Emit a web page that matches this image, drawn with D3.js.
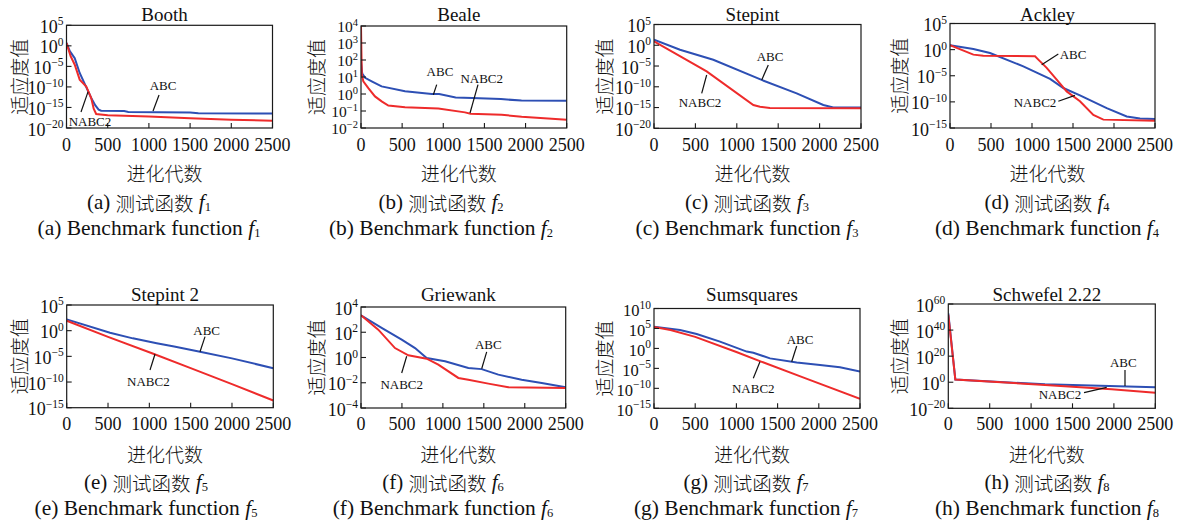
<!DOCTYPE html>
<html><head><meta charset="utf-8">
<script src="https://cdn.jsdelivr.net/npm/d3@7"></script>
<style>
body{margin:0;background:#fff}
text{font-family:"Liberation Serif","Times New Roman","Noto Sans CJK SC",serif;fill:#111}
.cjk{font-family:"Noto Sans CJK SC",sans-serif;font-weight:300}
</style>
</head><body>
<svg id="chart" width="1185" height="522"></svg>
<script>
// ---------------- data ----------------
const genTicks = [0, 500, 1000, 1500, 2000, 2500];
const titles = ["Booth", "Beale", "Stepint", "Ackley", "Stepint 2", "Griewank", "Sumsquares", "Schwefel 2.22"];
const letters = ["a", "b", "c", "d", "e", "f", "g", "h"];
const yTickExps = [
  [5, 0, -5, -10, -15, -20],
  [4, 3, 2, 1, 0, -1, -2],
  [5, 0, -5, -10, -15, -20],
  [5, 0, -5, -10, -15],
  [5, 0, -5, -10, -15],
  [4, 2, 0, -2, -4],
  [10, 5, 0, -5, -10, -15],
  [60, 40, 20, 0, -20]
];

// f1 Booth
const f1AbcGen = [0, 40, 100, 160, 245, 300, 350, 390, 420, 700, 750, 1500, 1600, 2500];
const f1AbcFit = [5, 5e-2, 1e-3, 2.5e-7, 5e-11, 2e-13, 3e-15, 3e-16, 1.6e-16, 1.3e-16, 8e-17, 6.3e-17, 4e-17, 3.2e-17];
const f1NabGen = [0, 50, 100, 160, 240, 300, 330, 360, 500, 1000, 1500, 2000, 2500];
const f1NabFit = [5, 3e-3, 2.5e-5, 6e-9, 1.3e-10, 2e-13, 5e-16, 2.5e-17, 1.3e-17, 6e-18, 2.5e-18, 1e-18, 6e-19];
// f2 Beale
const f2AbcGen = [0, 15, 50, 130, 250, 535, 860, 950, 1150, 1350, 1700, 1950, 2500];
const f2AbcFit = [80, 16, 9, 5.6, 2.8, 1.45, 1.0, 1.0, 0.63, 0.58, 0.5, 0.41, 0.4];
const f2NabGen = [0, 5, 10, 28, 89, 170, 251, 332, 535, 940, 1264, 1330, 1710, 1953, 2500];
const f2NabFit = [1e4, 316, 14, 5.6, 2.2, 0.72, 0.37, 0.21, 0.166, 0.138, 0.083, 0.069, 0.06, 0.046, 0.031];
// f3 Stepint
const f3AbcGen = [0, 314, 716, 1300, 1723, 2045, 2165, 2500];
const f3AbcFit = [23, 8.5e-2, 3.2e-4, 4.5e-9, 2.5e-12, 4e-15, 1e-15, 1e-15];
const f3NabGen = [0, 636, 1200, 1280, 1400, 2500];
const f3NabFit = [9, 5e-7, 4e-15, 1.6e-15, 8e-16, 6.3e-16];
// f4 Ackley
const f4AbcGen = [0, 285, 488, 894, 1220, 1382, 1585, 1911, 2155, 2317, 2500];
const f4AbcFit = [6.8, 1.3, 0.22, 6.3e-4, 2.5e-6, 4.5e-8, 1.8e-9, 6.3e-12, 1.6e-13, 6.3e-14, 5e-14];
const f4NabGen = [0, 285, 406, 1037, 1077, 1179, 1301, 1423, 1585, 1748, 1870, 2500];
const f4NabFit = [6.8, 0.11, 0.07, 0.052, 0.012, 3.2e-4, 1.8e-6, 1e-8, 1.3e-10, 3.2e-13, 4e-14, 2.5e-14];
// f5 Stepint 2
const f5AbcGen = [0, 524, 800, 1089, 1300, 1613, 2000, 2500];
const f5AbcFit = [160, 0.41, 0.032, 3.5e-3, 8e-4, 8e-5, 4e-6, 5e-8];
const f5NabGen = [0, 500, 1048, 1500, 2000, 2500];
const f5NabFit = [87, 6.3e-2, 3.2e-5, 5e-8, 4e-11, 2.5e-14];
// f6 Griewank
const f6AbcGen = [0, 252, 497, 660, 802, 1026, 1311, 1474, 1677, 1962, 2207, 2500];
const f6AbcFit = [2200, 220, 26, 5.6, 0.91, 0.5, 0.15, 0.12, 0.044, 0.017, 9.5e-3, 4.4e-3];
const f6NabGen = [0, 211, 415, 578, 802, 944, 1189, 1311, 1555, 1799, 2500];
const f6NabFit = [2200, 160, 5.6, 1.5, 0.8, 0.27, 0.024, 0.017, 8.5e-3, 4.4e-3, 3.8e-3];
// f7 Sumsquares
const f7AbcGen = [0, 316, 518, 801, 1125, 1206, 1408, 1732, 2015, 2257, 2500];
const f7AbcFit = [2.8e5, 4e4, 4e3, 50, 0.16, 0.085, 3.2e-3, 2.8e-4, 7e-5, 2e-5, 1.6e-6];
const f7NabGen = [0, 200, 500, 1000, 1300, 1800, 2500];
const f7NabFit = [2.5e5, 4e4, 800, 0.126, 5e-4, 6.3e-8, 2.5e-13];
// f8 Schwefel 2.22
const f8AbcGen = [0, 55, 85, 1168, 2500];
const f8AbcFit = [6e52, 1e20, 100, 0.025, 1.26e-4];
const f8NabGen = [0, 85, 1168, 1973, 2500];
const f8NabFit = [4e51, 100, 8e-3, 4e-6, 1e-8];

// annotation anchors in data units: [text gen, text fit, leader gen1, fit1, gen2, fit2]
const abcNotes = [
  [1172, 1.7e-10, 1123, 1.1e-12, 1050, 1.4e-16],
  [960, 22.4, 920, 3.55, 879, 0.91],
  [1401, 1.5e-3, 1380, 1.8e-5, 1301, 4.3e-9],
  [1500, 0.145, 1321, 0.145, 1118, 1.3e-3],
  [1694, 1.35, 1674, 0.068, 1613, 8.1e-5],
  [1555, 10.2, 1535, 2.75, 1474, 0.129],
  [1772, 129, 1732, 4.1, 1671, 4.7e-4],
  [2113, 1e15, 2134, 2.5e9, 2134, 1.26e-3]
];
const nabNotes = [
  [285, 2.9e-19, 176, 7.9e-17, 261, 6.3e-12],
  [1467, 8.7, 1422, 3.55, 1325, 0.076],
  [556, 1.3e-14, 576, 2.7e-12, 636, 6.9e-8],
  [1037, 6.3e-11, 1321, 1.3e-10, 1524, 1.8e-9],
  [988, 1.15e-10, 1008, 2.2e-8, 1069, 2.9e-5],
  [497, 7.9e-3, 497, 0.059, 558, 1.26],
  [1205, 1.02e-10, 1205, 3.3e-8, 1286, 4.7e-4],
  [1349, 1.6e-10, 1639, 1e-8, 1913, 1.26e-4]
];

const abcSeries = [[f1AbcGen,f1AbcFit],[f2AbcGen,f2AbcFit],[f3AbcGen,f3AbcFit],[f4AbcGen,f4AbcFit],
                   [f5AbcGen,f5AbcFit],[f6AbcGen,f6AbcFit],[f7AbcGen,f7AbcFit],[f8AbcGen,f8AbcFit]];
const nabSeries = [[f1NabGen,f1NabFit],[f2NabGen,f2NabFit],[f3NabGen,f3NabFit],[f4NabGen,f4NabFit],
                   [f5NabGen,f5NabFit],[f6NabGen,f6NabFit],[f7NabGen,f7NabFit],[f8NabGen,f8NabFit]];

// ---------------- layout ----------------
const layout = [
  {l:66.5, r:272.5, t:25.3, b:128, yt:18, cx:149},
  {l:361, r:566.7, t:26, b:128, yt:315, cx:441},
  {l:654, r:861, t:24.5, b:128.3, yt:603, cx:747},
  {l:950, r:1155, t:23.5, b:128, yt:898, cx:1047},
  {l:66.7, r:273.3, t:305, b:407.7, yt:18, cx:146},
  {l:361, r:565.7, t:307, b:408, yt:315, cx:443},
  {l:654, r:860, t:308.5, b:408.3, yt:603, cx:746},
  {l:948.3, r:1155.3, t:304, b:408.3, yt:898, cx:1047}
];
const rowY = [
  {title:20.5, tick:150.5, xt:172, c1:202, c2:228},
  {title:300.5, tick:430, xt:453, c1:482, c2:508}
];
const BLUE = "#2d4fb4", RED = "#ee2b2b";

const svg = d3.select("#chart");
svg.append("rect").attr("width",1185).attr("height",522).attr("fill","#fff");

layout.forEach((L, i) => {
  const R = rowY[i < 4 ? 0 : 1];
  const exps = yTickExps[i];
  const x = d3.scaleLinear().domain([0, 2500]).range([L.l, L.r]);
  const y = d3.scaleLog().domain([Math.pow(10, d3.min(exps)), Math.pow(10, d3.max(exps))]).range([L.b, L.t]);
  const g = svg.append("g");
  const cid = "clip" + i;
  svg.append("clipPath").attr("id", cid).append("rect")
    .attr("x", L.l).attr("y", L.t).attr("width", L.r - L.l).attr("height", L.b - L.t);

  const line = d3.line().x(d => x(d[0])).y(d => y(d[1]));
  const pts = s => s[0].map((v, k) => [v, s[1][k]]);
  g.append("path").attr("d", line(pts(abcSeries[i]))).attr("fill","none")
    .attr("stroke", BLUE).attr("stroke-width", 2).attr("clip-path", `url(#${cid})`);
  g.append("path").attr("d", line(pts(nabSeries[i]))).attr("fill","none")
    .attr("stroke", RED).attr("stroke-width", 2).attr("clip-path", `url(#${cid})`);

  // box
  g.append("rect").attr("x", L.l).attr("y", L.t).attr("width", L.r - L.l).attr("height", L.b - L.t)
    .attr("fill","none").attr("stroke","#1a1a1a").attr("stroke-width",1.2);

  // x ticks
  genTicks.forEach(t => {
    g.append("line").attr("x1", x(t)).attr("x2", x(t)).attr("y1", L.b).attr("y2", L.b - 5)
      .attr("stroke","#1a1a1a").attr("stroke-width",1.1);
    g.append("text").attr("x", x(t)).attr("y", R.tick).attr("text-anchor","middle")
      .attr("font-size", 18).text(t);
  });
  // y ticks
  const spacing = (L.b - L.t) / (exps.length - 1);
  const fs = spacing < 18 ? 15.5 : (spacing < 20.3 ? 16.5 : 18);
  const sfs = spacing < 18 ? 10.5 : 11.5;
  exps.forEach(e => {
    const yy = y(Math.pow(10, e));
    g.append("line").attr("x1", L.l).attr("x2", L.l + 5).attr("y1", yy).attr("y2", yy)
      .attr("stroke","#1a1a1a").attr("stroke-width",1.1);
    const tx = g.append("text").attr("x", L.l - 3).attr("y", yy + (spacing < 18 ? 6 : 7.5)).attr("text-anchor","end")
      .attr("font-size", fs);
    tx.append("tspan").text("10");
    tx.append("tspan").attr("font-size", sfs).attr("dy", spacing < 18 ? -6 : -7.5)
      .text(String(e).replace("-", "\u2212"));
  });

  const midX = (L.l + L.r) / 2 - 5;
  g.append("text").attr("x", midX).attr("y", R.title).attr("text-anchor","middle")
    .attr("font-size", 19).text(titles[i]);
  g.append("text").attr("class","cjk").attr("x", midX).attr("y", R.xt).attr("text-anchor","middle")
    .attr("dominant-baseline","central").attr("font-size", 19).text("进化代数");
  g.append("text").attr("class","cjk").attr("transform", `translate(${L.yt},${(L.t + L.b) / 2}) rotate(-90)`)
    .attr("text-anchor","middle").attr("dominant-baseline","central").attr("font-size", 19).text("适应度值");

  const c1 = g.append("text").attr("x", L.cx).attr("y", R.c1).attr("text-anchor","middle")
    .attr("dominant-baseline","central").attr("font-size", 21);
  c1.append("tspan").text(`(${letters[i]}) `);
  c1.append("tspan").attr("font-family","Noto Sans CJK SC").attr("font-weight",300).attr("font-size",19.5).text("测试函数");
  c1.append("tspan").text(" ");
  c1.append("tspan").attr("font-style","italic").text("f");
  c1.append("tspan").attr("font-size", 12.5).attr("dy", 5).text(i + 1);
  const c2 = g.append("text").attr("x", L.cx).attr("y", R.c2).attr("text-anchor","middle")
    .attr("dominant-baseline","central").attr("font-size", 21.5);
  c2.append("tspan").text(`(${letters[i]}) Benchmark function  `);
  c2.append("tspan").attr("font-style","italic").text("f");
  c2.append("tspan").attr("font-size", 12.5).attr("dy", 5).text(i + 1);

  // annotations
  [["ABC", abcNotes[i]], ["NABC2", nabNotes[i]]].forEach(([lab, a]) => {
    g.append("line").attr("x1", x(a[2])).attr("y1", y(a[3])).attr("x2", x(a[4])).attr("y2", y(a[5]))
      .attr("stroke","#111").attr("stroke-width",1.2);
    g.append("text").attr("x", x(a[0])).attr("y", y(a[1])).attr("text-anchor","middle")
      .attr("dominant-baseline","central").attr("font-size", 13).text(lab);
  });
});
</script>
</body></html>
